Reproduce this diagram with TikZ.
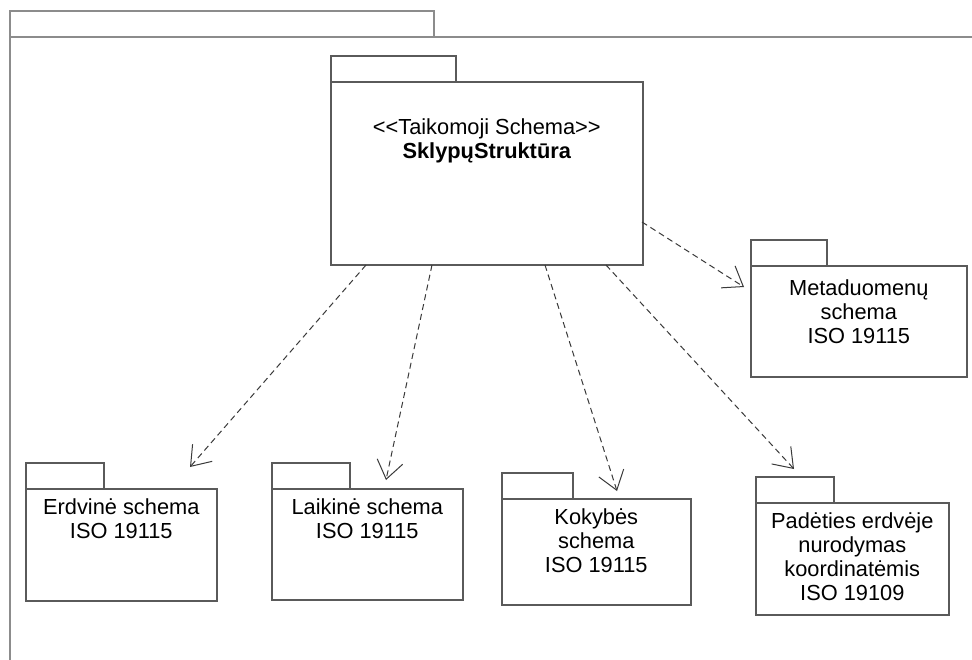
\documentclass[tikz,border=0pt]{standalone}
\usepackage{fontspec}
\setmainfont{Liberation Sans}
\usepackage{tikz}
\usetikzlibrary{arrows.meta}
\usepackage{xcolor}
\definecolor{pkgline}{HTML}{5A5A5A}
\definecolor{outerline}{HTML}{8C8C8C}
\definecolor{depline}{HTML}{3A3A3A}
\tikzstyle{pkg}=[draw=pkgline,line width=1.6pt,fill=white,inner sep=0pt,anchor=north west]
\tikzstyle{pkgtext}=[anchor=north,align=center,inner sep=0pt,font=\fontsize{21.8}{24}\selectfont]
\tikzstyle{dep}=[depline,line width=1pt,dash pattern=on 6pt off 4pt,
  -{Straight Barb[length=18pt,width=26pt,line width=1pt]}]
% package: name, x, top of body, width, height, tab width
\def\pkg#1#2#3#4#5#6{
  \node[pkg,minimum width=#6pt,minimum height=26pt] (#1-tab) at (#2,#3-26) {};
  \node[pkg,minimum width=#4pt,minimum height=#5pt] (#1) at (#2,#3) {};
}

\begin{document}
\begin{tikzpicture}[x=1pt,y=-1pt]
      \useasboundingbox (0,0) rectangle (972,659);
      \clip (0,0) rectangle (972,659);

      % OUTER PACKAGE
      \node[pkg,draw=outerline,minimum width=424pt,minimum height=26pt] (model-tab) at (9,10) {};
      \node[pkg,draw=outerline,minimum width=1100pt,minimum height=800pt] (model) at (9,36) {};

      % PACKAGES
      \pkg{main}{330}{81}{312}{183}{125}
      \pkg{meta}{750}{265}{216}{111}{76}
      \pkg{erd}{25}{488}{191}{112}{78}
      \pkg{laik}{271}{488}{191}{111}{78}
      \pkg{kok}{501}{498}{189}{106}{71}
      \pkg{pad}{755}{502}{193}{112}{78}

      \node[pkgtext] (main-txt) at ([yshift=-37pt]main.north)
        {<\kern0pt<Taikomoji Schema>\kern0pt>\\\textbf{SklypųStruktūra}};
      \node[pkgtext] (meta-txt) at ([yshift=-14pt]meta.north)
        {Metaduomenų\\schema\\ISO 19115};
      \node[pkgtext] (erd-txt) at ([yshift=-10pt]erd.north)
        {Erdvinė schema\\ISO 19115};
      \node[pkgtext] (laik-txt) at ([yshift=-10pt]laik.north)
        {Laikinė schema\\ISO 19115};
      \node[pkgtext] (kok-txt) at ([yshift=-10pt]kok.north)
        {Kokybės\\schema\\ISO 19115};
      \node[pkgtext] (pad-txt) at ([yshift=-10pt]pad.north)
        {Padėties erdvėje\\nurodymas\\koordinatėmis\\ISO 19109};

      % DEPENDENCIES
      \coordinate (d1) at (366,265);
      \coordinate (d2) at (432,265);
      \coordinate (d3) at (545,265);
      \coordinate (d4) at (606,265);
      \coordinate (d5) at (642,222);
      \coordinate (t1) at (190,467);
      \coordinate (t2) at (386,480);
      \coordinate (t3) at (617,491);
      \coordinate (t4) at (794,469);
      \coordinate (t5) at (744,287);
      \draw[dep] (d1) -- (t1);
      \draw[dep] (d2) -- (t2);
      \draw[dep] (d3) -- (t3);
      \draw[dep] (d4) -- (t4);
      \draw[dep] (d5) -- (t5);

    \end{tikzpicture}
\end{document}
